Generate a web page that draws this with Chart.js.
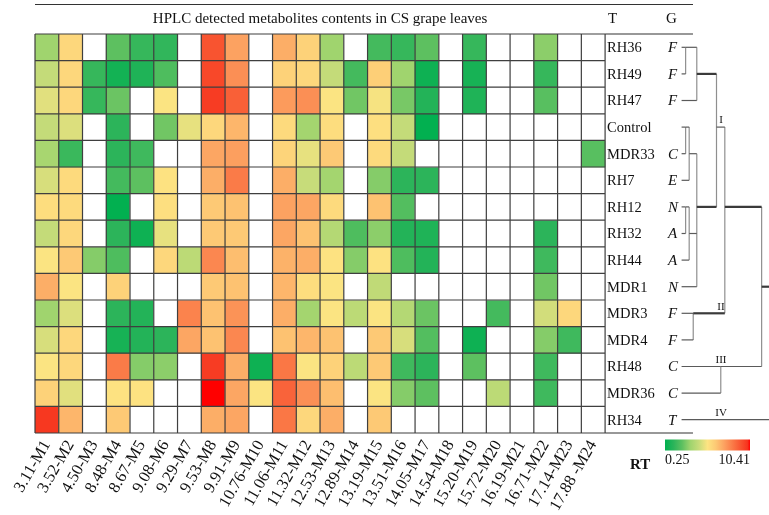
<!DOCTYPE html>
<html>
<head>
<meta charset="utf-8">
<script src="https://cdn.jsdelivr.net/npm/chart.js@4/dist/chart.umd.min.js"></script>
<style>
  html, body { margin: 0; padding: 0; background: #ffffff; }
  #wrap { width: 769px; height: 515px; }
</style>
</head>
<body>
<div id="wrap"><canvas id="heat" width="769" height="515"></canvas></div>
<script>
// Metabolites (retention time - id), one heatmap column each
const METABOLITES = [
  '3.11-M1', '3.52-M2', '4.50-M3', '8.48-M4', '8.67-M5', '9.08-M6', '9.29-M7', '9.53-M8',
  '9.91-M9', '10.76-M10', '11.06-M11', '11.32-M12', '12.53-M13', '12.89-M14', '13.19-M15',
  '13.51-M16', '14.05-M17', '14.54-M18', '15.20-M19', '15.72-M20', '16.19-M21', '16.71-M22',
  '17.14-M23', '17.88 -M24'
];

// Treatments (rows, top to bottom) and their group letters
const SAMPLES = ['RH36', 'RH49', 'RH47', 'Control', 'MDR33', 'RH7', 'RH12', 'RH32',
                 'RH44', 'MDR1', 'MDR3', 'MDR4', 'RH48', 'MDR36', 'RH34'];
const GROUPS  = ['F', 'F', 'F', '', 'C', 'E', 'N', 'A', 'A', 'N', 'F', 'F', 'C', 'C', 'T'];

// Metabolite contents per treatment (null = not detected)
const RH36    = [3.3, 5.8, null, 2.3, 1.5, 1.4, null, 9.3, 7.3, null, 7.0, 6.0, 3.3, null, 1.8, 1.5, 2.3, null, 1.5, null, null, 3.0, null, null];
const RH49    = [4.2, 5.8, 1.5, 0.7, 1.0, 2.0, null, 9.6, 7.8, null, 6.0, 5.8, 4.2, 1.8, 6.1, 3.3, 0.6, null, 0.8, null, null, 1.5, null, null];
const RH47    = [4.8, 5.8, 1.5, 2.5, null, 5.3, null, 9.9, 9.0, null, 7.5, 7.8, 5.3, 2.6, 5.2, 2.7, 1.1, null, 1.0, null, null, 2.2, null, null];
const CONTROL = [4.2, 4.7, null, 1.3, null, 2.6, 4.9, 5.8, 6.8, null, 5.7, 3.4, 5.6, null, 5.5, 4.2, 0.3, null, null, null, null, null, null, null];
const MDR33   = [3.5, 1.6, null, 1.3, 1.7, null, null, 7.2, 7.4, null, 5.9, 4.9, 6.3, null, 5.7, 4.2, null, null, null, null, null, null, null, 2.2];
const RH7     = [4.6, 5.7, null, 1.8, 2.3, 5.4, null, 7.0, 8.3, null, 7.0, 4.3, 3.4, null, 2.9, 1.3, 1.3, null, null, null, null, null, null, null];
const RH12    = [5.6, 5.7, null, 0.3, null, 5.5, null, 6.3, 6.5, null, 7.3, 7.2, 5.7, null, 6.5, 2.1, null, null, null, null, null, null, null, null];
const RH32    = [4.2, 5.8, null, 1.3, 0.6, 4.9, null, 6.3, 6.3, null, 7.2, 6.5, 3.8, 2.0, 3.0, 1.1, 1.0, null, null, null, null, 1.3, null, null];
const RH44    = [5.3, 6.3, 2.9, 2.0, null, 5.8, 4.0, 8.0, 6.6, null, 6.9, 7.0, 5.4, 2.9, 5.4, 2.0, 1.1, null, null, null, null, 1.7, null, null];
const MDR1    = [7.0, 5.3, null, 6.0, null, null, null, 6.3, 6.5, null, 6.8, 5.6, 5.3, null, 4.1, null, null, null, null, null, null, 2.6, null, null];
const MDR3    = [3.3, 4.7, null, 1.3, 1.1, null, 8.1, 6.5, 7.7, null, 7.0, 3.4, 5.3, 4.0, 5.3, 3.8, 2.5, null, null, 1.8, null, 4.5, 5.8, null];
const MDR4    = [4.6, 5.8, null, 0.8, 1.1, 1.3, 7.2, 6.5, 8.0, null, 6.5, 6.8, 6.5, null, 6.3, 4.6, 2.1, null, 0.6, null, null, 2.9, 1.7, null];
const RH48    = [5.3, 5.8, null, 8.3, 2.9, 3.0, null, 9.9, 7.0, 0.6, 8.4, 5.3, 6.0, 4.0, 6.3, 1.7, 1.3, null, 2.3, null, null, 1.7, null, null];
const MDR36   = [6.0, 4.8, null, 5.4, 5.4, null, null, 10.41, 7.2, 5.3, 8.9, 7.8, 6.6, null, 5.3, 2.9, 2.3, null, null, 4.0, null, 1.7, null, null];
const RH34    = [10.0, 6.8, null, 6.3, null, null, null, 7.0, 7.2, null, 8.4, 5.8, 7.0, null, 6.3, null, null, null, null, null, null, null, null, null];

const CONTENT = [RH36, RH49, RH47, CONTROL, MDR33, RH7, RH12, RH32, RH44, MDR1, MDR3, MDR4, RH48, MDR36, RH34];

// Colour scale limits
const RT_MIN = 0.25;
const RT_MAX = 10.41;
const RT_TICKS = ['0.25', '10.41'];

// Hierarchical clustering of the treatments.
// kids: leaf row indices or node ids; h: merge height (column units past the leaf stubs);
// row: row at which the node's stem leaves the bracket.
const TREE = [
  { id: 'n1',  kids: [0, 1],              h: 0.17, row: 0 },
  { id: 'n2',  kids: ['n1', 2],           h: 0.64, row: 1,  bold: true },
  { id: 'n3',  kids: [3, 4],              h: 0.17, row: 3 },
  { id: 'n4',  kids: ['n3', 5],           h: 0.32, row: 4 },
  { id: 'n5',  kids: [6, 7],              h: 0.17, row: 6 },
  { id: 'n6',  kids: ['n5', 8],           h: 0.32, row: 7 },
  { id: 'n7',  kids: ['n4', 'n6', 9],     h: 0.64, row: 6,  bold: true },
  { id: 'I',   kids: ['n2', 'n7'],        h: 1.47, row: 3 },
  { id: 'II',  kids: [10, 11],            h: 0.49, row: 10, bold: true },
  { id: 'n8',  kids: ['I', 'II'],         h: 1.82, row: 6,  bold: true },
  { id: 'III', kids: [12, 13],            h: 1.65, row: 12 },
  { id: 'n9',  kids: ['n8', 'III'],       h: 3.37, row: 9,  bold: true },
  { id: 'n10', kids: ['n9', 14],          h: 4.30, row: 11 }
];
const CLADES = [ { label: 'I', row: 3 }, { label: 'II', row: 10 }, { label: 'III', row: 12 }, { label: 'IV', row: 14 } ];

// ---- drawing helpers ----
const SERIF = '"Liberation Serif", "Times New Roman", serif';
const RAMP = [
  [0.00, [0, 176, 80]],
  [0.10, [42, 180, 90]],
  [0.20, [92, 192, 96]],
  [0.30, [160, 212, 110]],
  [0.40, [200, 220, 122]],
  [0.50, [253, 228, 130]],
  [0.60, [253, 200, 116]],
  [0.70, [252, 160, 96]],
  [0.80, [250, 120, 70]],
  [0.90, [248, 80, 46]],
  [0.97, [247, 52, 30]],
  [1.00, [255, 0, 0]]
];
function rgb(c) { return 'rgb(' + c.map(Math.round).join(',') + ')'; }
function rampColor(v) {
  if (v === null || v === undefined) return '#ffffff';
  let t = (v - RT_MIN) / (RT_MAX - RT_MIN);
  t = Math.max(0, Math.min(1, t));
  for (let i = 1; i < RAMP.length; i++) {
    if (t <= RAMP[i][0]) {
      const [t0, c0] = RAMP[i - 1], [t1, c1] = RAMP[i];
      const f = (t - t0) / (t1 - t0);
      return rgb(c0.map((a, k) => a + (c1[k] - a) * f));
    }
  }
  return rgb(RAMP[RAMP.length - 1][1]);
}

const NCOL = METABOLITES.length;
const NROW = SAMPLES.length;
const TREE_BASE = 27.22;   // x value where the dendrogram leaf stubs start
const RULE_END = 27.7;     // x value where the table rules stop

const decor = {
  id: 'decor',
  afterDatasetsDraw(chart) {
    const { ctx, scales: { x, y } } = chart;
    const x0 = x.getPixelForValue(0), x1 = x.getPixelForValue(NCOL);
    const y0 = y.getPixelForValue(0), y1 = y.getPixelForValue(NROW);
    ctx.save();
    ctx.strokeStyle = '#3f3f3f';
    ctx.lineWidth = 1.2;
    ctx.beginPath();
    for (let c = 0; c <= NCOL; c++) {
      const px = x.getPixelForValue(c);
      ctx.moveTo(px, y0); ctx.lineTo(px, y1);
    }
    for (let r = 0; r <= NROW; r++) {
      const py = y.getPixelForValue(r);
      ctx.moveTo(x0, py); ctx.lineTo(x1, py);
    }
    ctx.stroke();
    // table rules
    const xe = x.getPixelForValue(RULE_END);
    ctx.strokeStyle = '#333';
    ctx.beginPath();
    ctx.moveTo(x1, y0); ctx.lineTo(xe, y0);
    ctx.moveTo(x1, y1); ctx.lineTo(xe, y1);
    ctx.moveTo(x0, 4.5); ctx.lineTo(xe, 4.5);
    ctx.stroke();
    ctx.restore();
  },
  afterDraw(chart) {
    const { ctx, scales: { x, y } } = chart;
    const gx = x.getPixelForValue(NCOL);
    const rowY = r => y.getPixelForValue(r + 0.5);
    ctx.save();
    ctx.fillStyle = '#111';
    ctx.textBaseline = 'middle';

    // title and column headers
    ctx.font = '15px ' + SERIF;
    ctx.textAlign = 'center';
    ctx.fillText('HPLC detected metabolites contents in CS grape leaves', x.getPixelForValue(NCOL / 2), 19.5);
    ctx.textAlign = 'left';
    ctx.fillText('T', gx + 3, 19);
    ctx.fillText('G', gx + 61, 19);

    // treatment names and groups
    SAMPLES.forEach((s, r) => {
      ctx.font = '14.5px ' + SERIF;
      ctx.fillText(s, gx + 2, rowY(r) + 1);
      ctx.font = 'italic 15px ' + SERIF;
      ctx.fillText(GROUPS[r], gx + 63, rowY(r) + 1);
    });

    // dendrogram
    const nodes = {};
    TREE.forEach(n => { nodes[n.id] = n; });
    const leafX = x.getPixelForValue(TREE_BASE);
    const nodeX = n => x.getPixelForValue(TREE_BASE + n.h);
    const kidPos = k => (typeof k === 'number')
      ? { px: leafX, py: rowY(k), bold: false }
      : { px: nodeX(nodes[k]), py: rowY(nodes[k].row), bold: !!nodes[k].bold };
    TREE.forEach(n => {
      const nx = nodeX(n);
      const ks = n.kids.map(kidPos);
      const ys = ks.map(k => k.py);
      ctx.strokeStyle = '#8f8f8f';
      ctx.lineWidth = 1.2;
      ctx.beginPath();
      ctx.moveTo(nx, Math.min(...ys)); ctx.lineTo(nx, Math.max(...ys));
      ctx.stroke();
      ks.forEach(k => {
        ctx.strokeStyle = k.bold ? '#3a3a3a' : '#5a5a5a';
        ctx.lineWidth = k.bold ? 2.2 : 1.2;
        ctx.beginPath();
        ctx.moveTo(k.px, k.py); ctx.lineTo(nx, k.py);
        ctx.stroke();
      });
    });
    ctx.font = '11px ' + SERIF;
    ctx.textAlign = 'center';
    ctx.textBaseline = 'bottom';
    CLADES.forEach(c => {
      ctx.fillText(c.label, x.getPixelForValue(TREE_BASE + 1.66), rowY(c.row) - 1);
    });

    // colour key
    const kx0 = 665, kx1 = 750, ky = 439.5, kh = 11;
    const grad = ctx.createLinearGradient(kx0, 0, kx1, 0);
    RAMP.forEach(([t, c]) => grad.addColorStop(t, rgb(c)));
    ctx.fillStyle = grad;
    ctx.fillRect(kx0, ky, kx1 - kx0, kh);
    ctx.fillStyle = '#111';
    ctx.font = '14px ' + SERIF;
    ctx.textBaseline = 'middle';
    ctx.textAlign = 'left';
    ctx.fillText(RT_TICKS[0], kx0, 460);
    ctx.textAlign = 'right';
    ctx.fillText(RT_TICKS[1], kx1, 460);
    ctx.textAlign = 'left';
    ctx.font = 'bold 15px ' + SERIF;
    ctx.fillText('RT', 630, 465);
    ctx.restore();
  }
};

new Chart(document.getElementById('heat'), {
  type: 'bar',
  data: {
    datasets: SAMPLES.map((name, r) => ({
      label: name,
      data: CONTENT[r].map((v, c) => ({ x: c + 0.5, y: [r, r + 1] })),
      backgroundColor: ctx => rampColor(CONTENT[r][ctx.dataIndex]),
      borderWidth: 0,
      grouped: false,
      barPercentage: 1,
      categoryPercentage: 1
    }))
  },
  options: {
    responsive: false,
    animation: false,
    events: [],
    layout: { padding: { left: 35, top: 34, right: 0, bottom: 0 } },
    plugins: { legend: { display: false }, tooltip: { enabled: false }, title: { display: false } },
    scales: {
      x: {
        type: 'linear',
        min: 0,
        max: 30.9,
        offset: false,
        grid: { display: false, drawTicks: false },
        border: { display: false },
        afterBuildTicks: s => { s.ticks = METABOLITES.map((_, i) => ({ value: i + 0.5 })); },
        afterFit: s => { s.height = 82; },
        ticks: {
          autoSkip: false,
          minRotation: 60,
          maxRotation: 60,
          padding: 4,
          color: '#111',
          font: { family: SERIF, size: 16.5 },
          callback: (v, i) => METABOLITES[i]
        }
      },
      y: {
        type: 'linear',
        min: 0,
        max: NROW,
        reverse: true,
        display: false
      }
    }
  },
  plugins: [decor]
});
</script>
</body>
</html>
